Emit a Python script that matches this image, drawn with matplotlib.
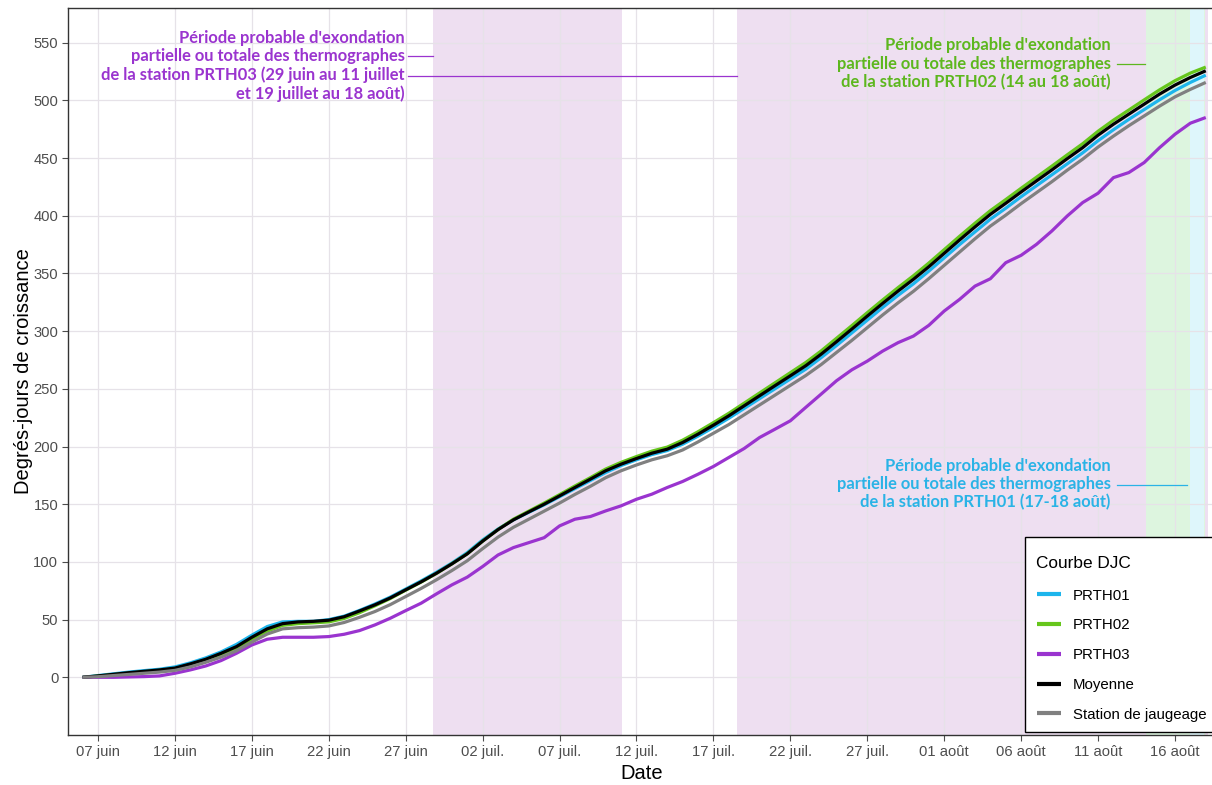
import matplotlib
matplotlib.use("Agg")
import matplotlib.pyplot as plt
import matplotlib.dates as mdates
from matplotlib.patches import Rectangle
import numpy as np
import pandas as pd

# ---------------- data ----------------
dates = pd.date_range("2021-06-06", "2021-08-18", freq="D")

prth01 = [0, 1.5, 3, 4.5, 5.8, 7, 9, 12.5, 16.8, 22, 28.5, 36.5, 44, 48, 48.5, 48.5, 50, 53, 58, 63.5,
          69.5, 76.5, 83.5, 91, 99, 108, 119, 128.5, 136.5, 143, 149.5, 156.5, 163.5, 170.5, 177.5, 183.5,
          188.5, 193, 196.5, 202, 209, 216.5, 224.5, 233, 241.5, 250, 258.5, 267, 277, 287.5, 298.5, 309.5,
          320.5, 331, 341, 352, 363.5, 375, 386, 397, 406.5, 416.5, 426, 435.5, 445, 454.5, 465, 474.5,
          483.5, 492, 500.5, 508.5, 515.5, 521.8]
prth02 = [0, 1, 2.3, 3.6, 4.8, 6, 7.5, 11, 15, 20, 25.5, 33, 40, 45, 46.5, 47.2, 48, 51, 56, 62,
          68.3, 75.5, 82.5, 90, 98.3, 107, 118, 128, 137, 144, 151, 158.3, 165.8, 173, 180.5, 186.3,
          191.3, 196, 199.5, 205.5, 212.8, 220.7, 228.8, 237.6, 246.4, 255.2, 264, 272.8, 282.8, 293.8,
          304.8, 316, 327, 337.7, 348, 359, 370.6, 382.2, 393.5, 404.4, 414, 423.8, 433.4, 443, 452.8,
          462.4, 473.2, 482.8, 491.6, 500.4, 509.1, 517, 523.6, 528.8]
prth03 = [0, 0, 0, 0.3, 0.6, 1.2, 3.5, 6.4, 9.8, 14.5, 20.8, 28, 33, 34.7, 34.7, 34.7, 35.3, 37.3, 40.5,
          45.4, 51.2, 57.8, 64.2, 72.3, 80.1, 86.8, 96, 106, 112.4, 116.7, 121, 131.2, 137, 139.3, 144.2,
          148.6, 154.3, 158.7, 164.5, 169.7, 176, 182.7, 190.5, 198.3, 207.8, 215, 222.3, 233.9, 245.4,
          257, 266.5, 274, 282.7, 290, 295.7, 305, 317.4, 327.5, 339, 345.4, 359.3, 365.7, 375.2, 386.8,
          399.8, 411.4, 419.5, 433, 437.4, 446.1, 459, 470.6, 480.2, 485.1]
moyenne = [0, 1.2, 2.6, 4, 5.2, 6.4, 8, 11.6, 15.6, 20.8, 26.6, 34.7, 42, 46.5, 48, 48.5, 49.5, 52.5,
           57.5, 62.8, 68.8, 75.8, 82.7, 90.2, 98.3, 107, 118, 128, 136.4, 143.3, 150, 157.2, 164.5,
           171.7, 179, 184.7, 189.6, 194.2, 197.7, 203.5, 210.7, 218.5, 226.6, 235.3, 244, 252.7, 261.3,
           270, 280, 290.8, 301.8, 313, 324, 334.7, 344.9, 355.8, 367.4, 379, 390.3, 401.2, 410.8,
           420.6, 430.2, 439.7, 449.5, 459, 469.8, 479.3, 488, 496.7, 505.4, 513.2, 519.8, 525.6]
station = [0, 0.5, 1.5, 2.5, 3.5, 4.5, 6, 9, 13, 17.5, 23, 30.5, 37.5, 42, 43, 43.5, 44.5, 47.5, 52,
           57, 63, 70, 77, 84.5, 92.5, 101, 111.5, 121.5, 130, 137, 144, 151, 158.5, 165.5, 173, 179,
           184, 188.5, 192, 197, 204, 211.5, 219, 227.5, 236, 244.5, 253, 261.5, 271, 281.5, 292, 303,
           314, 324.5, 334.5, 345.5, 357, 368.5, 380, 391, 400.5, 410.5, 420, 429.5, 439.5, 449, 459.5,
           469, 478, 486.5, 495, 503, 509.5, 515.5]

series_names = ["PRTH01", "PRTH02", "PRTH03", "Moyenne", "Station de jaugeage"]
series_values = [prth01, prth02, prth03, moyenne, station]
series_colors = ["#1DB5EC", "#66C61C", "#9A34CF", "#000000", "#808080"]

tick_dates = pd.date_range("2021-06-07", "2021-08-16", freq="5D")
tick_labels = ["07 juin", "12 juin", "17 juin", "22 juin", "27 juin", "02 juil.", "07 juil.",
               "12 juil.", "17 juil.", "22 juil.", "27 juil.", "01 août", "06 août", "11 août", "16 août"]
y_ticks = list(range(0, 551, 50))

# exondation periods (start, end)
periods_prth03 = [("2021-06-28 18:00", "2021-07-11 02:00"), ("2021-07-18 13:00", "2021-08-18 03:00")]
period_prth02 = ("2021-08-14 03:00", "2021-08-17 23:00")
period_prth01 = ("2021-08-17 00:00", "2021-08-17 22:00")

txt03 = "Période probable d'exondation\npartielle ou totale des thermographes\nde la station PRTH03 (29 juin au 11 juillet\net 19 juillet au 18 août)"
txt02 = "Période probable d'exondation\npartielle ou totale des thermographes\nde la station PRTH02 (14 au 18 août)"
txt01 = "Période probable d'exondation\npartielle ou totale des thermographes\nde la station PRTH01 (17-18 août)"

# ---------------- figure ----------------
W, H = 1212, 785
fig = plt.figure(figsize=(W / 100, H / 100), dpi=100)
ax = fig.add_axes([68 / W, (H - 735) / H, (1215 - 68) / W, (735 - 8) / H])

def D(s):
    return mdates.date2num(pd.Timestamp(s))
d0 = D("2021-06-07")

# shaded areas
c_purple, c_green, c_cyan = "#EEDFF1", "#DDF5DF", "#DEF6FB"
for s, e in periods_prth03:
    ax.axvspan(D(s), D(e), color=c_purple, zorder=0.2, lw=0)
ax.axvspan(D(period_prth02[0]), D(period_prth02[1]), color=c_green, zorder=0.3, lw=0)
ax.axvspan(D(period_prth01[0]), D(period_prth01[1]), color=c_cyan, zorder=0.4, lw=0)

# lines
xd = mdates.date2num(dates)
for name, vals, col in zip(series_names, series_values, series_colors):
    ax.plot(xd, vals, color=col, lw=2.3, label=name, zorder=3, solid_capstyle="butt")

# axes
ax.set_xlim(d0 - 1.95, d0 + 72.6)
ax.set_ylim(-50, 580)
ax.set_xticks(mdates.date2num(tick_dates))
ax.set_xticklabels(tick_labels)
ax.set_yticks(y_ticks)
ax.set_axisbelow(True)
ax.grid(True, color="#E6E2E8", lw=0.9, zorder=0.5)
for sp in ax.spines.values():
    sp.set_color("#333333")
    sp.set_linewidth(1.0)
ax.tick_params(colors="#4D4D4D", labelsize=10.6, length=4, width=0.8, pad=3)
for lab in ax.get_xticklabels() + ax.get_yticklabels():
    lab.set_fontfamily("Liberation Sans")
    lab.set_color("#4D4D4D")
ax.set_xlabel("Date", fontsize=14.5, family="Liberation Sans", labelpad=4)
ax.set_ylabel("Degrés-jours de croissance", fontsize=14.5, family="Liberation Sans", labelpad=0)

# annotations
afont = dict(family="Lato", weight="bold", fontsize=11.9, linespacing=1.17)
ax.text(d0 + 19.93, 529.9, txt03, color="#9A34CF", ha="right", va="center",
        multialignment="right", zorder=5, **afont)
ax.plot([d0 + 20.15, D(periods_prth03[0][0])], [538, 538], color="#9A34CF", lw=0.9, zorder=5)
ax.plot([d0 + 20.15, D(periods_prth03[1][0])], [521.5, 521.5], color="#9A34CF", lw=0.9, zorder=5)

ax.text(d0 + 65.83, 531.6, txt02, color="#5DB71E", ha="right", va="center",
        multialignment="right", zorder=5, **afont)
ax.plot([d0 + 66.2, D(period_prth02[0]) - 0.1], [531.2, 531.2], color="#5DB71E", lw=0.9, zorder=5)

ax.text(d0 + 65.83, 167.3, txt01, color="#2AB3E6", ha="right", va="center",
        multialignment="right", zorder=5, **afont)
ax.plot([d0 + 66.2, D(period_prth01[0]) - 0.2], [166.8, 166.8], color="#2AB3E6", lw=0.9, zorder=5)

# legend: box drawn separately, content placed inside
box = Rectangle((1025 / W, 1 - 732 / H), (1220 - 1025) / W, (732 - 537) / H, transform=fig.transFigure,
                facecolor="white", edgecolor="black", lw=1.0, zorder=8)
fig.add_artist(box)
leg = fig.legend(loc="upper left", bbox_to_anchor=(1036.5 / W, 1 - 555.5 / H), borderaxespad=0,
                 title="Courbe DJC", frameon=False,
                 prop={"family": "Liberation Sans", "size": 10.8},
                 title_fontproperties={"family": "Liberation Sans", "size": 12.4},
                 handlelength=1.6, handletextpad=0.85, labelspacing=1.05, borderpad=0)
leg.set_zorder(9)
leg._legend_box.align = "left"
leg._legend_box.sep = 13
for h in leg.get_lines():
    h.set_linewidth(3)

fig.savefig("out.png", dpi=100)
